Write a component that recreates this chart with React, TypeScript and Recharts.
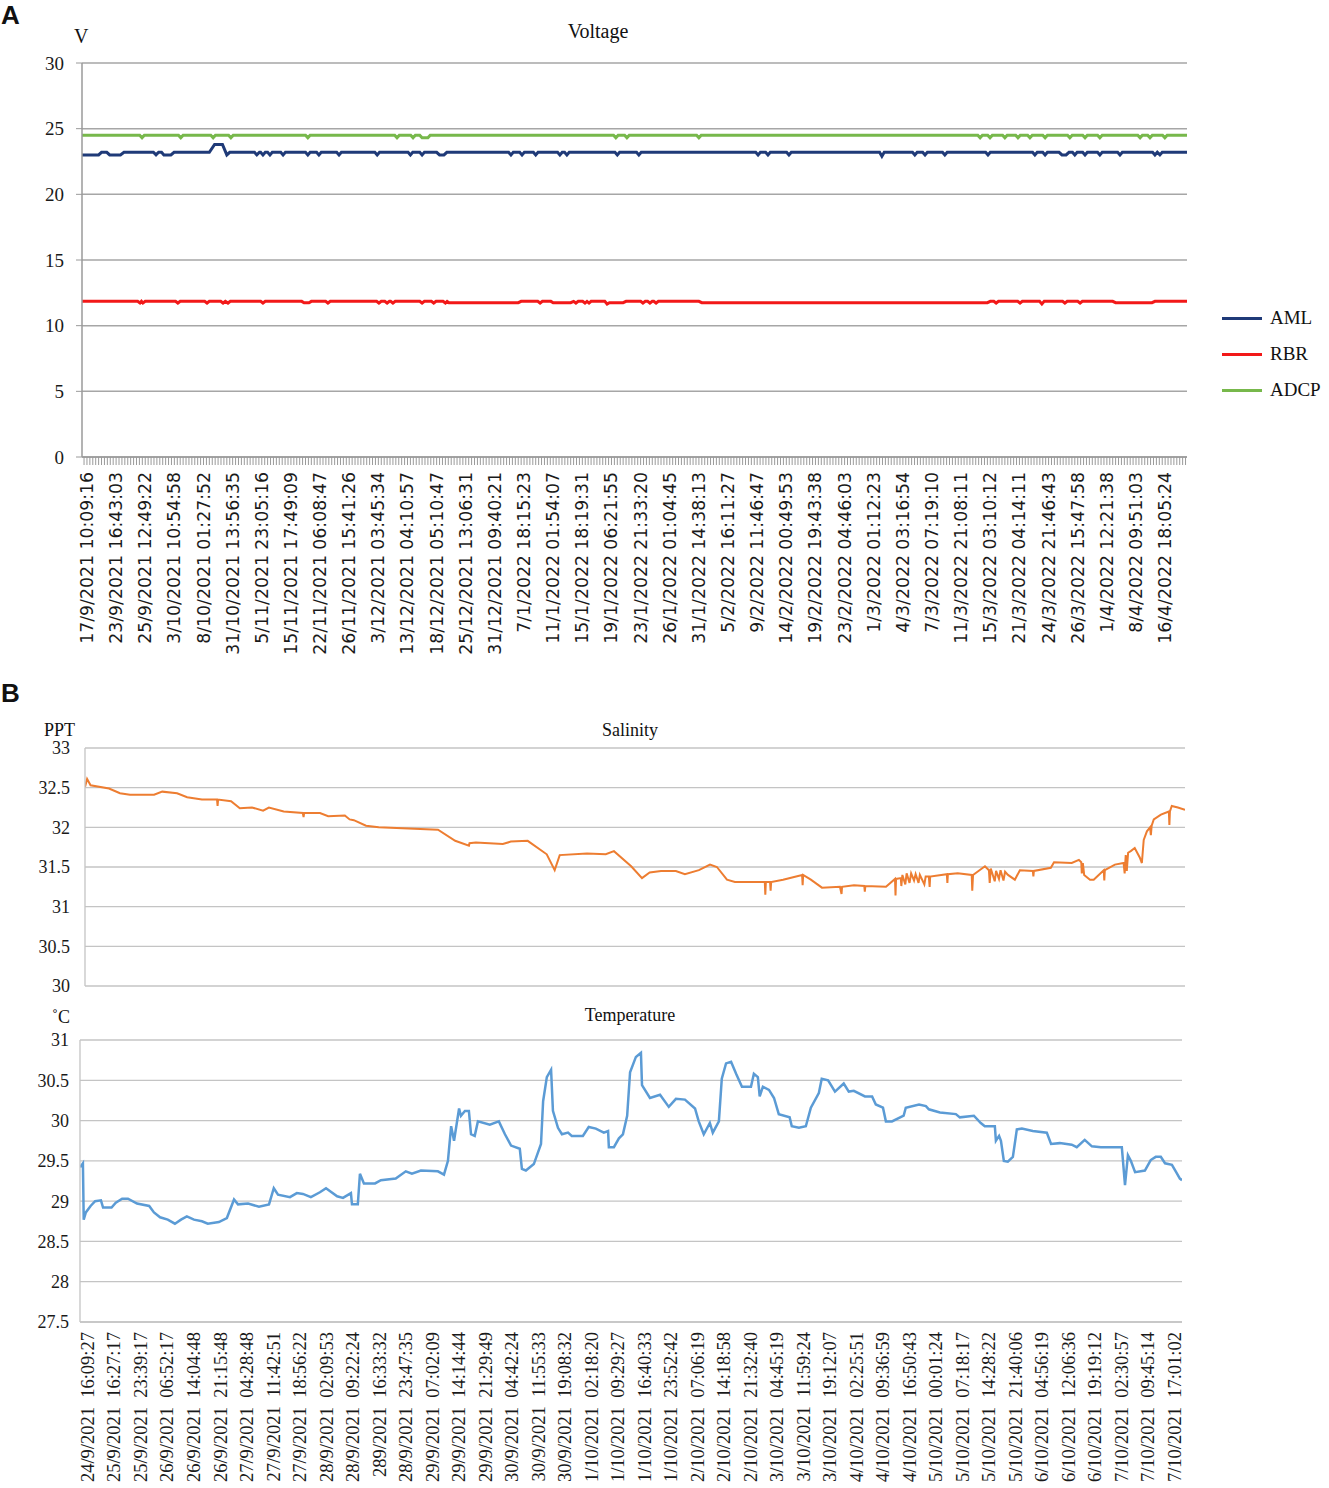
import React from "react";
import { CartesianGrid, Line, LineChart, XAxis, YAxis } from "recharts";

// ---- Panel A: voltage ----
const voltageLabels = [
  "17/9/2021 10:09:16", "23/9/2021 16:43:03", "25/9/2021 12:49:22", "3/10/2021 10:54:58",
  "8/10/2021 01:27:52", "31/10/2021 13:56:35", "5/11/2021 23:05:16", "15/11/2021 17:49:09",
  "22/11/2021 06:08:47", "26/11/2021 15:41:26", "3/12/2021 03:45:34", "13/12/2021 04:10:57",
  "18/12/2021 05:10:47", "25/12/2021 13:06:31", "31/12/2021 09:40:21", "7/1/2022 18:15:23",
  "11/1/2022 01:54:07", "15/1/2022 18:19:31", "19/1/2022 06:21:55", "23/1/2022 21:33:20",
  "26/1/2022 01:04:45", "31/1/2022 14:38:13", "5/2/2022 16:11:27", "9/2/2022 11:46:47",
  "14/2/2022 00:49:53", "19/2/2022 19:43:38", "23/2/2022 04:46:03", "1/3/2022 01:12:23",
  "4/3/2022 03:16:54", "7/3/2022 07:19:10", "11/3/2022 21:08:11", "15/3/2022 03:10:12",
  "21/3/2022 04:14:11", "24/3/2022 21:46:43", "26/3/2022 15:47:58", "1/4/2022 12:21:38",
  "8/4/2022 09:51:03", "16/4/2022 18:05:24",
];
const voltageTicks = [0, 5, 10, 15, 20, 25, 30];

// [label index, volts]
const AML: [number, number][] = [
  [-0.17, 23.0], [0.4, 23.0], [0.5, 23.2], [0.68, 23.2], [0.78, 23.0], [1.15, 23.0], [1.27, 23.2],
  [2.28, 23.2], [2.37, 23.0], [2.46, 23.2], [2.56, 23.2], [2.64, 23.0], [2.88, 23.0], [2.99, 23.2],
  [4.2, 23.2], [4.38, 23.8], [4.65, 23.8], [4.8, 23.0], [4.9, 23.2],
  [5.75, 23.2], [5.83, 23.0], [5.92, 23.2], [5.96, 23.2], [6.04, 23.0], [6.12, 23.2], [6.2, 23.2], [6.28, 23.0], [6.36, 23.2],
  [6.65, 23.2], [6.73, 23.0], [6.81, 23.2], [7.5, 23.2], [7.58, 23.0], [7.66, 23.2],
  [7.88, 23.2], [7.96, 23.0], [8.04, 23.2], [8.57, 23.2], [8.65, 23.0], [8.73, 23.2],
  [9.88, 23.2], [9.96, 23.0], [10.04, 23.2], [11.02, 23.2], [11.1, 23.0], [11.18, 23.2],
  [11.42, 23.2], [11.5, 23.0], [11.58, 23.2], [12.0, 23.2], [12.1, 23.0], [12.25, 23.0], [12.35, 23.2],
  [14.47, 23.2], [14.55, 23.0], [14.63, 23.2], [14.85, 23.2], [14.93, 23.0], [15.01, 23.2],
  [15.32, 23.2], [15.4, 23.0], [15.48, 23.2], [16.15, 23.2], [16.23, 23.0], [16.31, 23.2],
  [16.39, 23.2], [16.47, 23.0], [16.55, 23.2], [18.12, 23.2], [18.2, 23.0], [18.28, 23.2],
  [18.86, 23.2], [18.94, 23.0], [19.02, 23.2], [22.95, 23.2], [23.03, 23.0], [23.11, 23.2],
  [23.29, 23.2], [23.37, 23.0], [23.45, 23.2], [24.01, 23.2], [24.09, 23.0], [24.17, 23.2],
  [27.2, 23.2], [27.28, 22.9], [27.36, 23.2], [28.33, 23.2], [28.41, 23.0], [28.49, 23.2],
  [28.68, 23.2], [28.76, 23.0], [28.84, 23.2], [29.36, 23.2], [29.44, 23.0], [29.52, 23.2],
  [30.84, 23.2], [30.92, 23.0], [31.0, 23.2], [32.45, 23.2], [32.53, 23.0], [32.61, 23.2],
  [32.8, 23.2], [32.88, 23.0], [32.96, 23.2], [33.36, 23.2], [33.46, 23.0], [33.6, 23.0], [33.7, 23.2],
  [33.82, 23.2], [33.9, 23.0], [33.98, 23.2], [34.17, 23.2], [34.25, 23.0], [34.33, 23.2],
  [34.68, 23.2], [34.76, 23.0], [34.84, 23.2], [35.37, 23.2], [35.45, 23.0], [35.53, 23.2],
  [36.57, 23.2], [36.65, 23.0], [36.73, 23.2], [36.82, 23.0], [36.9, 23.2], [37.75, 23.2],
];

const RBR: [number, number][] = [
  [-0.17, 11.85], [1.74, 11.85], [1.82, 11.72], [1.87, 11.85], [1.92, 11.72], [2.0, 11.85],
  [3.04, 11.85], [3.12, 11.72], [3.2, 11.85], [4.04, 11.85], [4.12, 11.72], [4.2, 11.85],
  [4.59, 11.85], [4.67, 11.72], [4.75, 11.85], [4.84, 11.72], [4.92, 11.85],
  [5.96, 11.85], [6.04, 11.72], [6.12, 11.85], [7.37, 11.85], [7.45, 11.75], [7.62, 11.75], [7.7, 11.85],
  [8.19, 11.85], [8.27, 11.72], [8.35, 11.85], [9.94, 11.85], [10.02, 11.72], [10.1, 11.85],
  [10.22, 11.85], [10.3, 11.72], [10.38, 11.85], [10.42, 11.85], [10.5, 11.72], [10.58, 11.85],
  [11.42, 11.85], [11.5, 11.72], [11.58, 11.85], [11.82, 11.85], [11.9, 11.72], [11.98, 11.85],
  [12.22, 11.85], [12.3, 11.72], [12.36, 11.85], [12.42, 11.75], [14.8, 11.75], [14.9, 11.85],
  [15.47, 11.85], [15.55, 11.72], [15.63, 11.85], [15.92, 11.85], [16.0, 11.75], [16.6, 11.75],
  [16.7, 11.85], [16.78, 11.72], [16.86, 11.85], [17.01, 11.85], [17.09, 11.72], [17.16, 11.85],
  [17.23, 11.72], [17.3, 11.85], [17.77, 11.85], [17.85, 11.65], [17.93, 11.75], [18.4, 11.75], [18.5, 11.85],
  [19.0, 11.85], [19.08, 11.72], [19.16, 11.85], [19.24, 11.85], [19.32, 11.72], [19.4, 11.85],
  [19.45, 11.85], [19.53, 11.72], [19.61, 11.85], [21.0, 11.85], [21.1, 11.75], [30.9, 11.75], [31.0, 11.85],
  [31.12, 11.85], [31.2, 11.72], [31.28, 11.85], [31.94, 11.85], [32.02, 11.72], [32.1, 11.85],
  [32.69, 11.85], [32.77, 11.65], [32.85, 11.85], [33.48, 11.85], [33.56, 11.72], [33.64, 11.85],
  [34.0, 11.85], [34.08, 11.72], [34.16, 11.85], [35.2, 11.85], [35.3, 11.75], [36.55, 11.75],
  [36.65, 11.85], [37.75, 11.85],
];

const ADCP: [number, number][] = [
  [-0.17, 24.5], [1.81, 24.5], [1.89, 24.3], [1.97, 24.5], [3.14, 24.5], [3.22, 24.3], [3.3, 24.5],
  [4.25, 24.5], [4.33, 24.3], [4.41, 24.5], [4.86, 24.5], [4.94, 24.3], [5.02, 24.5],
  [7.5, 24.5], [7.58, 24.3], [7.66, 24.5], [10.56, 24.5], [10.64, 24.3], [10.72, 24.5],
  [11.11, 24.5], [11.19, 24.3], [11.27, 24.5], [11.42, 24.5], [11.5, 24.3], [11.7, 24.3], [11.78, 24.5],
  [18.07, 24.5], [18.15, 24.3], [18.23, 24.5], [18.45, 24.5], [18.53, 24.3], [18.61, 24.5],
  [20.92, 24.5], [21.0, 24.3], [21.08, 24.5], [30.57, 24.5], [30.65, 24.3], [30.73, 24.5],
  [30.91, 24.5], [30.99, 24.3], [31.07, 24.5], [31.42, 24.5], [31.5, 24.3], [31.58, 24.5],
  [31.87, 24.5], [31.95, 24.3], [32.03, 24.5], [32.28, 24.5], [32.36, 24.3], [32.44, 24.5],
  [32.8, 24.5], [32.88, 24.3], [32.96, 24.5], [33.65, 24.5], [33.73, 24.3], [33.81, 24.5],
  [34.17, 24.5], [34.25, 24.3], [34.33, 24.5], [34.68, 24.5], [34.76, 24.3], [34.84, 24.5],
  [36.06, 24.5], [36.14, 24.3], [36.22, 24.5], [36.4, 24.5], [36.48, 24.3], [36.56, 24.5],
  [36.91, 24.5], [36.99, 24.3], [37.07, 24.5], [37.75, 24.5],
];

// ---- Panel B: salinity and temperature ----
const bottomLabels = [
  "24/9/2021 16:09:27", "25/9/2021 16:27:17", "25/9/2021 23:39:17", "26/9/2021 06:52:17",
  "26/9/2021 14:04:48", "26/9/2021 21:15:48", "27/9/2021 04:28:48", "27/9/2021 11:42:51",
  "27/9/2021 18:56:22", "28/9/2021 02:09:53", "28/9/2021 09:22:24", "289/2021 16:33:32",
  "28/9/2021 23:47:35", "29/9/2021 07:02:09", "29/9/2021 14:14:44", "29/9/2021 21:29:49",
  "30/9/2021 04:42:24", "30/9/2021 11:55:33", "30/9/2021 19:08:32", "1/10/2021 02:18:20",
  "1/10/2021 09:29:27", "1/10/2021 16:40:33", "1/10/2021 23:52:42", "2/10/2021 07:06:19",
  "2/10/2021 14:18:58", "2/10/2021 21:32:40", "3/10/2021 04:45:19", "3/10/2021 11:59:24",
  "3/10/2021 19:12:07", "4/10/2021 02:25:51", "4/10/2021 09:36:59", "4/10/2021 16:50:43",
  "5/10/2021 00:01:24", "5/10/2021 07:18:17", "5/10/2021 14:28:22", "5/10/2021 21:40:06",
  "6/10/2021 04:56:19", "6/10/2021 12:06:36", "6/10/2021 19:19:12", "7/10/2021 02:30:57",
  "7/10/2021 09:45:14", "7/10/2021 17:01:02",
];
const salinityTicks = [30, 30.5, 31, 31.5, 32, 32.5, 33];
const temperatureTicks = [27.5, 28, 28.5, 29, 29.5, 30, 30.5, 31];

// [label index, PPT]
const SALINITY: [number, number][] = [
  [-0.3, 32.51], [-0.22, 32.61], [-0.09, 32.53], [0.61, 32.49], [1.02, 32.43], [1.4, 32.41],
  [2.31, 32.41], [2.62, 32.45], [3.18, 32.43], [3.56, 32.38], [4.12, 32.35], [4.69, 32.35],
  [4.71, 32.27], [4.73, 32.35], [5.22, 32.33], [5.55, 32.24], [6.01, 32.25], [6.43, 32.21],
  [6.65, 32.25], [7.21, 32.2], [7.93, 32.18], [7.96, 32.13], [7.98, 32.18], [8.58, 32.18],
  [8.89, 32.14], [9.52, 32.15], [9.7, 32.1], [9.86, 32.09], [10.32, 32.02], [10.8, 32.0],
  [13.04, 31.97], [13.69, 31.83], [14.21, 31.77], [14.23, 31.8], [14.47, 31.81], [15.49, 31.79],
  [15.79, 31.82], [16.43, 31.83], [17.15, 31.66], [17.45, 31.46], [17.64, 31.65], [18.67, 31.67],
  [19.38, 31.66], [19.69, 31.7], [20.34, 31.51], [20.75, 31.36], [21.04, 31.43], [21.47, 31.45],
  [22.03, 31.45], [22.37, 31.41], [22.9, 31.46], [23.32, 31.53], [23.58, 31.5], [23.96, 31.34],
  [24.26, 31.31], [25.39, 31.31], [25.41, 31.15], [25.43, 31.31], [25.59, 31.31], [25.61, 31.2],
  [25.63, 31.31], [26.08, 31.34], [26.8, 31.4], [26.82, 31.27], [26.84, 31.4], [27.13, 31.34],
  [27.55, 31.24], [28.23, 31.25], [28.29, 31.16], [28.31, 31.25], [28.76, 31.27], [29.15, 31.26],
  [29.17, 31.19], [29.19, 31.26], [29.97, 31.25], [30.31, 31.35], [30.33, 31.14], [30.35, 31.35],
  [30.53, 31.36], [30.55, 31.26], [30.59, 31.4], [30.7, 31.28], [30.75, 31.42], [30.86, 31.3],
  [30.92, 31.42], [31.03, 31.33], [31.09, 31.41], [31.2, 31.3], [31.25, 31.4], [31.42, 31.28],
  [31.47, 31.38], [31.59, 31.38], [31.62, 31.25], [31.64, 31.38], [32.27, 31.41], [32.29, 31.3],
  [32.31, 31.41], [32.68, 31.42], [33.21, 31.4], [33.23, 31.2], [33.26, 31.4], [33.71, 31.51],
  [33.86, 31.46], [33.89, 31.3], [33.93, 31.48], [34.08, 31.32], [34.13, 31.45], [34.24, 31.35],
  [34.3, 31.46], [34.41, 31.33], [34.47, 31.44], [34.58, 31.4], [34.84, 31.34], [35.03, 31.46],
  [35.52, 31.45], [35.54, 31.38], [35.56, 31.45], [36.2, 31.49], [36.32, 31.56], [36.99, 31.55],
  [37.26, 31.59], [37.35, 31.56], [37.37, 31.42], [37.41, 31.55], [37.46, 31.4], [37.68, 31.34],
  [37.82, 31.34], [38.2, 31.46], [38.22, 31.33], [38.24, 31.46], [38.62, 31.53], [38.95, 31.55],
  [38.99, 31.42], [39.03, 31.65], [39.07, 31.45], [39.12, 31.68], [39.22, 31.7], [39.37, 31.74],
  [39.56, 31.62], [39.64, 31.55], [39.71, 31.84], [39.83, 31.95], [39.95, 32.0], [39.98, 31.9],
  [40.01, 32.02], [40.09, 32.1], [40.36, 32.16], [40.66, 32.2], [40.68, 32.03], [40.7, 32.2],
  [40.77, 32.27], [41.0, 32.25], [41.27, 32.22],
];

// [label index, °C]
const TEMPERATURE: [number, number][] = [
  [-0.3, 29.42], [-0.19, 29.47], [-0.16, 28.77], [-0.08, 28.86], [0.1, 28.94], [0.27, 29.0],
  [0.49, 29.01], [0.57, 28.92], [0.89, 28.92], [1.05, 28.98], [1.29, 29.03], [1.51, 29.03],
  [1.85, 28.97], [2.31, 28.94], [2.49, 28.86], [2.72, 28.8], [3.01, 28.77], [3.28, 28.72],
  [3.51, 28.77], [3.73, 28.81], [4.0, 28.77], [4.3, 28.75], [4.52, 28.72], [4.94, 28.74],
  [5.24, 28.79], [5.51, 29.02], [5.66, 28.96], [6.04, 28.97], [6.45, 28.93], [6.83, 28.96],
  [7.01, 29.16], [7.17, 29.08], [7.62, 29.05], [7.88, 29.1], [8.11, 29.09], [8.41, 29.05],
  [8.75, 29.11], [8.98, 29.16], [9.4, 29.06], [9.62, 29.04], [9.92, 29.1], [9.96, 28.96],
  [10.18, 28.96], [10.26, 29.34], [10.41, 29.22], [10.83, 29.22], [11.05, 29.26], [11.61, 29.28],
  [11.99, 29.37], [12.22, 29.34], [12.56, 29.38], [13.2, 29.37], [13.43, 29.33], [13.58, 29.5],
  [13.7, 29.93], [13.81, 29.75], [14.0, 30.15], [14.07, 30.06], [14.22, 30.12], [14.37, 30.12],
  [14.45, 29.83], [14.59, 29.81], [14.71, 29.99], [15.16, 29.95], [15.5, 29.99], [15.73, 29.83],
  [15.96, 29.69], [16.29, 29.65], [16.37, 29.4], [16.52, 29.38], [16.82, 29.46], [17.09, 29.71],
  [17.17, 30.24], [17.31, 30.54], [17.47, 30.63], [17.54, 30.12], [17.73, 29.91], [17.88, 29.83],
  [18.11, 29.85], [18.25, 29.81], [18.67, 29.81], [18.89, 29.92], [19.16, 29.9], [19.46, 29.85],
  [19.62, 29.87], [19.65, 29.67], [19.84, 29.67], [20.03, 29.78], [20.18, 29.83], [20.34, 30.06],
  [20.45, 30.6], [20.67, 30.79], [20.86, 30.84], [20.9, 30.44], [21.2, 30.28], [21.58, 30.32],
  [21.91, 30.17], [22.18, 30.27], [22.52, 30.26], [22.9, 30.15], [23.04, 29.99], [23.23, 29.83],
  [23.46, 29.97], [23.57, 29.85], [23.8, 29.99], [23.91, 30.52], [24.07, 30.71], [24.26, 30.73],
  [24.45, 30.58], [24.67, 30.42], [25.01, 30.42], [25.12, 30.58], [25.27, 30.54], [25.34, 30.3],
  [25.46, 30.42], [25.69, 30.38], [25.88, 30.28], [26.06, 30.08], [26.47, 30.04], [26.55, 29.93],
  [26.82, 29.91], [27.08, 29.93], [27.27, 30.16], [27.57, 30.34], [27.68, 30.52], [27.92, 30.5],
  [28.18, 30.36], [28.51, 30.46], [28.7, 30.36], [28.89, 30.37], [29.31, 30.3], [29.58, 30.3],
  [29.72, 30.2], [29.99, 30.16], [30.1, 29.99], [30.33, 29.99], [30.77, 30.06], [30.85, 30.16],
  [31.35, 30.2], [31.61, 30.18], [31.72, 30.14], [32.14, 30.1], [32.74, 30.08], [32.89, 30.04],
  [33.42, 30.06], [33.68, 29.97], [33.83, 29.93], [34.21, 29.93], [34.25, 29.75], [34.37, 29.81],
  [34.44, 29.75], [34.55, 29.5], [34.7, 29.49], [34.89, 29.55], [35.04, 29.89], [35.23, 29.9],
  [35.64, 29.87], [36.17, 29.85], [36.33, 29.71], [36.66, 29.72], [37.11, 29.7], [37.3, 29.67],
  [37.6, 29.76], [37.87, 29.68], [38.21, 29.67], [39.0, 29.67], [39.12, 29.2], [39.23, 29.57],
  [39.34, 29.5], [39.5, 29.36], [39.87, 29.38], [40.09, 29.51], [40.28, 29.55], [40.47, 29.55],
  [40.63, 29.47], [40.89, 29.45], [41.05, 29.36], [41.19, 29.28], [41.27, 29.26],
];

const AML_COLOR = "#1f3a78";
const RBR_COLOR = "#f21818";
const ADCP_COLOR = "#77b84b";
const SERIF = "'Liberation Serif', 'Times New Roman', serif";
const SANS = "'DejaVu Sans', Verdana, sans-serif";

const toPoints = (rows: [number, number][]) => rows.map(([x, v]) => ({ x, v }));

const voltageSeries = [
  { name: "AML", color: AML_COLOR, data: toPoints(AML) },
  { name: "RBR", color: RBR_COLOR, data: toPoints(RBR) },
  { name: "ADCP", color: ADCP_COLOR, data: toPoints(ADCP) },
];

// dense little ticks under panel A, one label every 10th tick
const minorTicks = Array.from({ length: 379 }, (_, k) => (k - 1) / 10);

const VoltageTick = (props: any) => {
  const { x, y, payload } = props;
  const k = Math.round(payload.value * 10);
  const label = k >= 0 && k % 10 === 0 ? voltageLabels[k / 10] : null;
  return (
    <g>
      <line x1={x} y1={y} x2={x} y2={y + 8} stroke="#9a9a9a" strokeWidth={1} />
      {label && (
        <text
          x={x}
          y={y + 15}
          transform={`rotate(-90 ${x} ${y + 15})`}
          textAnchor="end"
          dominantBaseline="central"
          fontFamily={SANS}
          fontSize={17.3}
          fill="#1a1a1a"
        >
          {label}
        </text>
      )}
    </g>
  );
};

const BottomTick = (props: any) => {
  const { x, y, payload } = props;
  const label = bottomLabels[Math.round(payload.value)];
  if (!label) return null;
  return (
    <text
      x={x}
      y={y + 10}
      transform={`rotate(-90 ${x} ${y + 10})`}
      textAnchor="end"
      dominantBaseline="central"
      fontFamily={SERIF}
      fontSize={18.5}
      fill="#1a1a1a"
      style={{ whiteSpace: "pre" }}
    >
      {label.replace(" ", "  ")}
    </text>
  );
};

const abs = (left: number, top: number, extra: React.CSSProperties = {}): React.CSSProperties => ({
  position: "absolute",
  left,
  top,
  lineHeight: 1,
  whiteSpace: "nowrap",
  color: "#111",
  fontFamily: SERIF,
  ...extra,
});

const App = () => {
  return (
    <div style={{ position: "absolute", left: 0, top: 0, width: 1329, height: 1488, background: "#fff" }}>
      <div style={abs(1, 2, { fontFamily: "'Liberation Sans', Arial, sans-serif", fontWeight: 700, fontSize: 26 })}>A</div>
      <div style={abs(74, 26, { fontSize: 20 })}>V</div>
      <div style={abs(498, 21, { width: 200, textAlign: "center", fontSize: 20 })}>Voltage</div>

      <div style={{ position: "absolute", left: 0, top: 0 }}>
        <LineChart width={1329} height={660} margin={{ top: 63, right: 142, bottom: 0, left: 0 }}>
          <CartesianGrid vertical={false} stroke="#a6a6a6" strokeWidth={1.5} />
          <XAxis
            dataKey="x"
            type="number"
            domain={[-0.17, 37.75]}
            allowDataOverflow
            ticks={minorTicks}
            interval={0}
            tick={(p: any) => <VoltageTick {...p} />}
            tickLine={false}
            tickSize={0}
            tickMargin={0}
            axisLine={{ stroke: "#9a9a9a", strokeWidth: 1.5 }}
            height={203}
          />
          <YAxis
            type="number"
            domain={[0, 30]}
            ticks={voltageTicks}
            interval={0}
            width={82}
            tickSize={6}
            tickMargin={12}
            tickLine={{ stroke: "#9a9a9a" }}
            axisLine={{ stroke: "#9a9a9a", strokeWidth: 1.5 }}
            tick={{ fontFamily: SERIF, fontSize: 19, fill: "#1a1a1a" }}
          />
          {voltageSeries.map((s) => (
            <Line
              key={s.name}
              data={s.data}
              dataKey="v"
              name={s.name}
              type="linear"
              stroke={s.color}
              strokeWidth={3}
              dot={false}
              isAnimationActive={false}
            />
          ))}
        </LineChart>
      </div>

      <div style={{ position: "absolute", left: 1222, top: 300 }}>
        {voltageSeries.map((s) => (
          <div key={s.name} style={{ display: "flex", alignItems: "center", height: 36 }}>
            <span style={{ display: "inline-block", width: 40, height: 3, background: s.color }} />
            <span style={{ marginLeft: 8, fontFamily: SERIF, fontSize: 19, color: "#111" }}>{s.name}</span>
          </div>
        ))}
      </div>

      <div style={abs(1, 680, { fontFamily: "'Liberation Sans', Arial, sans-serif", fontWeight: 700, fontSize: 26 })}>B</div>
      <div style={abs(44, 721, { fontSize: 18 })}>PPT</div>
      <div style={abs(530, 721, { width: 200, textAlign: "center", fontSize: 18 })}>Salinity</div>

      <div style={{ position: "absolute", left: 0, top: 700 }}>
        <LineChart width={1329} height={300} margin={{ top: 48, right: 144, bottom: 14, left: 0 }}>
          <CartesianGrid vertical={false} stroke="#c4c4c4" strokeWidth={1.3} />
          <XAxis dataKey="x" type="number" domain={[-0.3, 41.27]} allowDataOverflow hide />
          <YAxis
            type="number"
            domain={[30, 33]}
            ticks={salinityTicks}
            interval={0}
            width={85}
            tickSize={6}
            tickMargin={9}
            tickLine={false}
            axisLine={{ stroke: "#c4c4c4", strokeWidth: 1.3 }}
            tick={{ fontFamily: SERIF, fontSize: 18, fill: "#1a1a1a" }}
          />
          <Line
            data={toPoints(SALINITY)}
            dataKey="v"
            name="Salinity"
            type="linear"
            stroke="#ed7d31"
            strokeWidth={2}
            dot={false}
            isAnimationActive={false}
          />
        </LineChart>
      </div>

      <div style={abs(52, 1008, { fontSize: 18 })}>˚C</div>
      <div style={abs(530, 1006, { width: 200, textAlign: "center", fontSize: 18 })}>Temperature</div>

      <div style={{ position: "absolute", left: 0, top: 1000 }}>
        <LineChart width={1329} height={488} margin={{ top: 40, right: 147, bottom: 0, left: 0 }}>
          <CartesianGrid vertical={false} stroke="#c4c4c4" strokeWidth={1.3} />
          <XAxis
            dataKey="x"
            type="number"
            domain={[-0.3, 41.27]}
            allowDataOverflow
            ticks={bottomLabels.map((_, i) => i)}
            interval={0}
            tick={(p: any) => <BottomTick {...p} />}
            tickLine={false}
            tickSize={0}
            tickMargin={0}
            axisLine={{ stroke: "#c4c4c4", strokeWidth: 1.3 }}
            height={166}
          />
          <YAxis
            type="number"
            domain={[27.5, 31]}
            ticks={temperatureTicks}
            interval={0}
            width={80}
            tickSize={6}
            tickMargin={5}
            tickLine={false}
            axisLine={{ stroke: "#c4c4c4", strokeWidth: 1.3 }}
            tick={{ fontFamily: SERIF, fontSize: 18, fill: "#1a1a1a" }}
          />
          <Line
            data={toPoints(TEMPERATURE)}
            dataKey="v"
            name="Temperature"
            type="linear"
            stroke="#5b9bd5"
            strokeWidth={2.5}
            dot={false}
            isAnimationActive={false}
          />
        </LineChart>
      </div>
    </div>
  );
};

export default App;
